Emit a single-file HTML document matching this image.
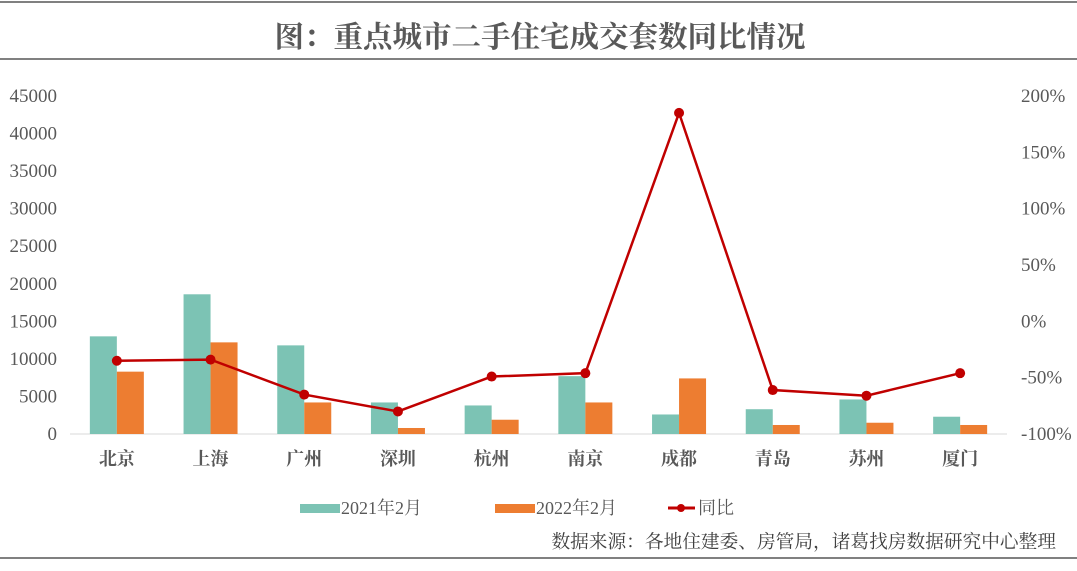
<!DOCTYPE html>
<html><head><meta charset="utf-8"><style>
body{margin:0;background:#fff;}
svg text{font-family:"Liberation Serif","Noto Serif CJK SC",serif;}
</style></head><body>
<svg id="c" width="1077" height="566" xmlns="http://www.w3.org/2000/svg">
<rect x="0" y="1" width="1077" height="2" fill="#808080"/>
<rect x="0" y="58" width="1077" height="2" fill="#808080"/>
<rect x="0" y="557" width="1077" height="2" fill="#808080"/>
<text x="540" y="47" text-anchor="middle" font-size="29.5" font-weight="bold" fill="#595959">图：重点城市二手住宅成交套数同比情况</text>
<g id="plot"></g>
<g>
<rect x="300" y="504" width="40" height="9" fill="#7cc3b4"/>
<text x="341" y="514" font-size="18" fill="#595959">2021年2月</text>
<rect x="495" y="504" width="40" height="9" fill="#ed7d31"/>
<text x="536" y="514" font-size="18" fill="#595959">2022年2月</text>
<line x1="548" y1="508" x2="575" y2="508" stroke="#c00000" stroke-width="3" transform="translate(120,0)"/>
<circle cx="561" cy="508" r="4" fill="#c00000" transform="translate(120,0)"/>
<text x="578" y="514" font-size="18" fill="#595959" transform="translate(120,0)">同比</text>
</g>
<text x="1056" y="548" text-anchor="end" font-size="18.7" fill="#404040">数据来源：各地住建委、房管局，诸葛找房数据研究中心整理</text>
</svg>
<script>
const categories=["北京","上海","广州","深圳","杭州","南京","成都","青岛","苏州","厦门"];
const s2021=[13000,18600,11800,4200,3800,7700,2600,3300,4600,2300];
const s2022=[8300,12200,4200,800,1900,4200,7400,1200,1500,1200];
const yoy=[-35,-34,-65,-80,-49,-46,185,-61,-66,-46];
const leftTicks=[0,5000,10000,15000,20000,25000,30000,35000,40000,45000];
const rightTicks=[-100,-50,0,50,100,150,200];
const NS="http://www.w3.org/2000/svg";
const g=document.getElementById('plot');
const x0=70,x1=1007,yB=434,yT=96;
const yL=v=>yB-(v/45000)*(yB-yT);
const yR=v=>yB-((v+100)/300)*(yB-yT);
const bw=(x1-x0)/categories.length;
const xc=i=>x0+bw*(i+0.5);
function mk(t,a){const e=document.createElementNS(NS,t);for(const k in a)e.setAttribute(k,a[k]);g.appendChild(e);return e;}
let ax=mk('line',{x1:x0,x2:x1,y1:yB,y2:yB,stroke:'#d9d9d9','stroke-width':1});


leftTicks.forEach(v=>{const t=mk('text',{x:57,y:yL(v)+6,'text-anchor':'end','font-size':19,fill:'#595959'});t.textContent=v;

});
rightTicks.forEach(v=>{const t=mk('text',{x:1021,y:yR(v)+6,'font-size':19,fill:'#595959'});t.textContent=v+'%';

});
categories.forEach((c,i)=>{
const a=mk('rect',{x:xc(i)-27,y:yL(s2021[i]),width:27,height:yB-yL(s2021[i]),fill:'#7cc3b4'});


const b=mk('rect',{x:xc(i),y:yL(s2022[i]),width:27,height:yB-yL(s2022[i]),fill:'#ed7d31'});


const t=mk('text',{x:xc(i),y:465,'text-anchor':'middle','font-size':18,'font-weight':'bold',fill:'#595959'});t.textContent=c;


});
const pl=mk('polyline',{points:yoy.map((v,i)=>xc(i)+','+yR(v)).join(' '),fill:'none',stroke:'#c00000','stroke-width':2.5});


yoy.forEach((v,i)=>{const c=mk('circle',{cx:xc(i),cy:yR(v),r:5,fill:'#c00000'});

});
</script>
</body></html>
